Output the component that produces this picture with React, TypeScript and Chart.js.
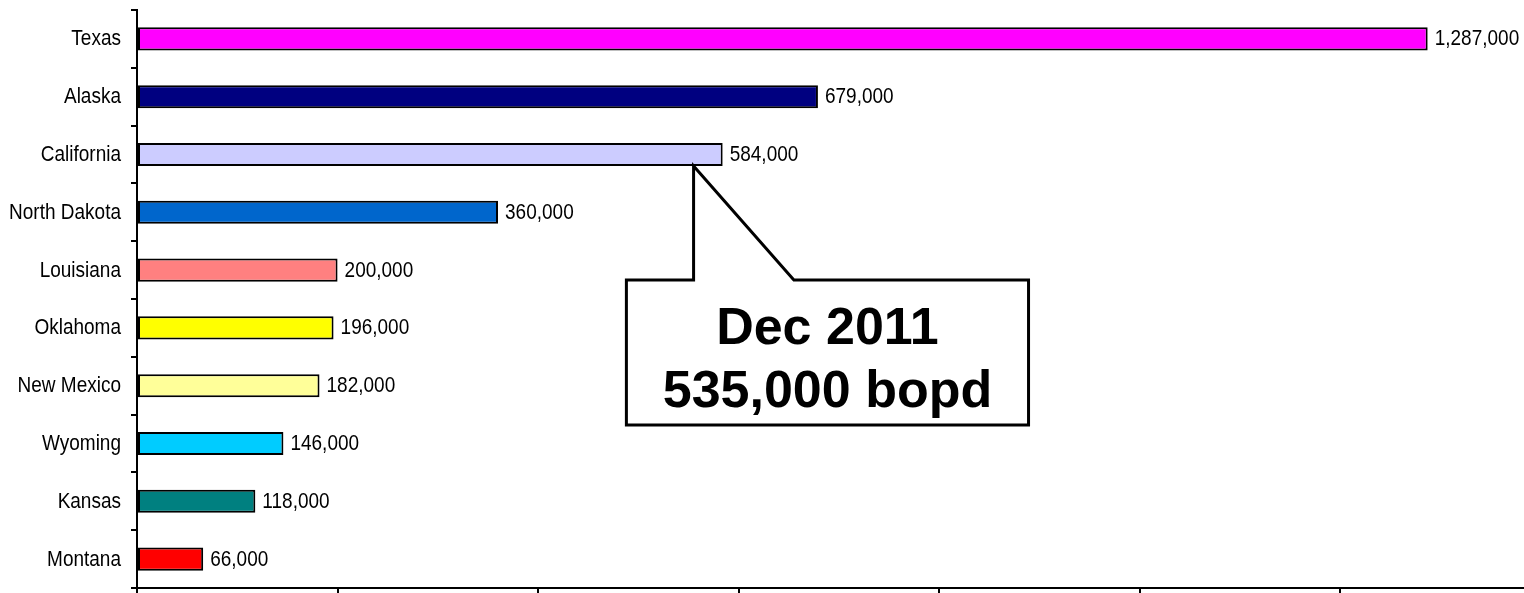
import { useEffect, useRef } from 'react';
import { Chart, registerables } from 'chart.js';

Chart.register(...registerables);

const states = ['Texas', 'Alaska', 'California', 'North Dakota', 'Louisiana', 'Oklahoma', 'New Mexico', 'Wyoming', 'Kansas', 'Montana'];
const production = [1287000, 679000, 584000, 360000, 200000, 196000, 182000, 146000, 118000, 66000];
const barColors = ['#FF00FF', '#000080', '#CCCCFF', '#0066CC', '#FF8080', '#FFFF00', '#FFFF99', '#00CCFF', '#008080', '#FF0000'];
const calloutLines = ['Dec 2011', '535,000 bopd'];
const axisMin = 0;
const axisMax = 1400000;
const axisStep = 200000;

const LABEL_FONT = "19px 'Liberation Sans', Arial, sans-serif";
const STRETCH = 1.16;

function drawStretched(ctx: CanvasRenderingContext2D, text: string, x: number, y: number, align: CanvasTextAlign) {
  ctx.save();
  ctx.translate(x, y);
  ctx.scale(1, STRETCH);
  ctx.font = LABEL_FONT;
  ctx.fillStyle = '#000';
  ctx.textAlign = align;
  ctx.textBaseline = 'middle';
  ctx.fillText(text, 0, 0);
  ctx.restore();
}

const textLabels = {
  id: 'textLabels',
  afterDatasetsDraw(chart: any) {
    const ctx = chart.ctx;
    const meta = chart.getDatasetMeta(0);
    const ys = chart.scales.y;
    const labels = chart.data.labels as string[];
    labels.forEach((lab, i) => {
      drawStretched(ctx, lab, ys.right - 16, ys.getPixelForValue(i) + 0.5, 'right');
    });
    meta.data.forEach((bar: any, i: number) => {
      const v = chart.data.datasets[0].data[i] as number;
      drawStretched(ctx, v.toLocaleString('en-US'), bar.x + 7, bar.y + 0.5, 'left');
    });
  },
};

const callout = {
  id: 'callout',
  afterDraw(chart: any) {
    const ctx = chart.ctx;
    const xs = chart.scales.x;
    const ys = chart.scales.y;
    const meta = chart.getDatasetMeta(0);
    const bar = meta.data[2];
    const tipY = bar.y + bar.height / 2;
    const left = xs.getPixelForValue(488000);
    const right = xs.getPixelForValue(889000);
    const notchL = xs.getPixelForValue(555000);
    const notchR = xs.getPixelForValue(655000);
    const top = ys.getPixelForValue(4.17);
    const bottom = ys.getPixelForValue(6.68);
    ctx.save();
    ctx.beginPath();
    ctx.moveTo(left, top);
    ctx.lineTo(notchL, top);
    ctx.lineTo(notchL, tipY);
    ctx.lineTo(notchR, top);
    ctx.lineTo(right, top);
    ctx.lineTo(right, bottom);
    ctx.lineTo(left, bottom);
    ctx.closePath();
    ctx.fillStyle = '#fff';
    ctx.fill();
    ctx.lineWidth = 3;
    ctx.strokeStyle = '#000';
    ctx.lineJoin = 'miter';
    ctx.stroke();
    ctx.fillStyle = '#000';
    ctx.font = "bold 52px 'Liberation Sans', Arial, sans-serif";
    ctx.textAlign = 'center';
    ctx.textBaseline = 'alphabetic';
    const cx = (left + right) / 2;
    ctx.fillText(calloutLines[0], cx, top + 64);
    ctx.fillText(calloutLines[1], cx, top + 127);
    ctx.restore();
  },
};

export default function App() {
  const ref = useRef<HTMLCanvasElement>(null);
  useEffect(() => {
    if (!ref.current) return;
    const chart = new Chart(ref.current, {
      type: 'bar',
      data: {
        labels: states,
        datasets: [
          {
            data: production,
            backgroundColor: barColors,
            borderColor: '#000',
            borderWidth: 2,
            borderSkipped: false,
            barPercentage: 0.4,
            categoryPercentage: 1,
          },
        ],
      },
      options: {
        indexAxis: 'y',
        animation: false,
        responsive: false,
        maintainAspectRatio: false,
        layout: { padding: { top: 10, right: 19, left: 0, bottom: 0 } },
        plugins: { legend: { display: false }, tooltip: { enabled: false } },
        scales: {
          x: {
            min: axisMin,
            max: axisMax,
            ticks: { display: false, stepSize: axisStep },
            grid: { display: true, drawOnChartArea: false, drawTicks: true, tickLength: 5, color: '#000', lineWidth: 2 },
            border: { display: true, color: '#000', width: 2 },
          },
          y: {
            ticks: { display: false },
            grid: { display: true, drawOnChartArea: false, drawTicks: true, tickLength: 6, color: '#000', lineWidth: 2, offset: true },
            border: { display: true, color: '#000', width: 2 },
            afterFit: (scale: any) => {
              scale.width = 137;
            },
          },
        },
      },
      plugins: [textLabels, callout],
    });
    return () => chart.destroy();
  }, []);
  return (
    <div style={{ position: 'absolute', left: 0, top: 0, width: 1524, height: 593, overflow: 'hidden', background: '#fff' }}>
      <canvas ref={ref} width={1560} height={593} />
    </div>
  );
}
